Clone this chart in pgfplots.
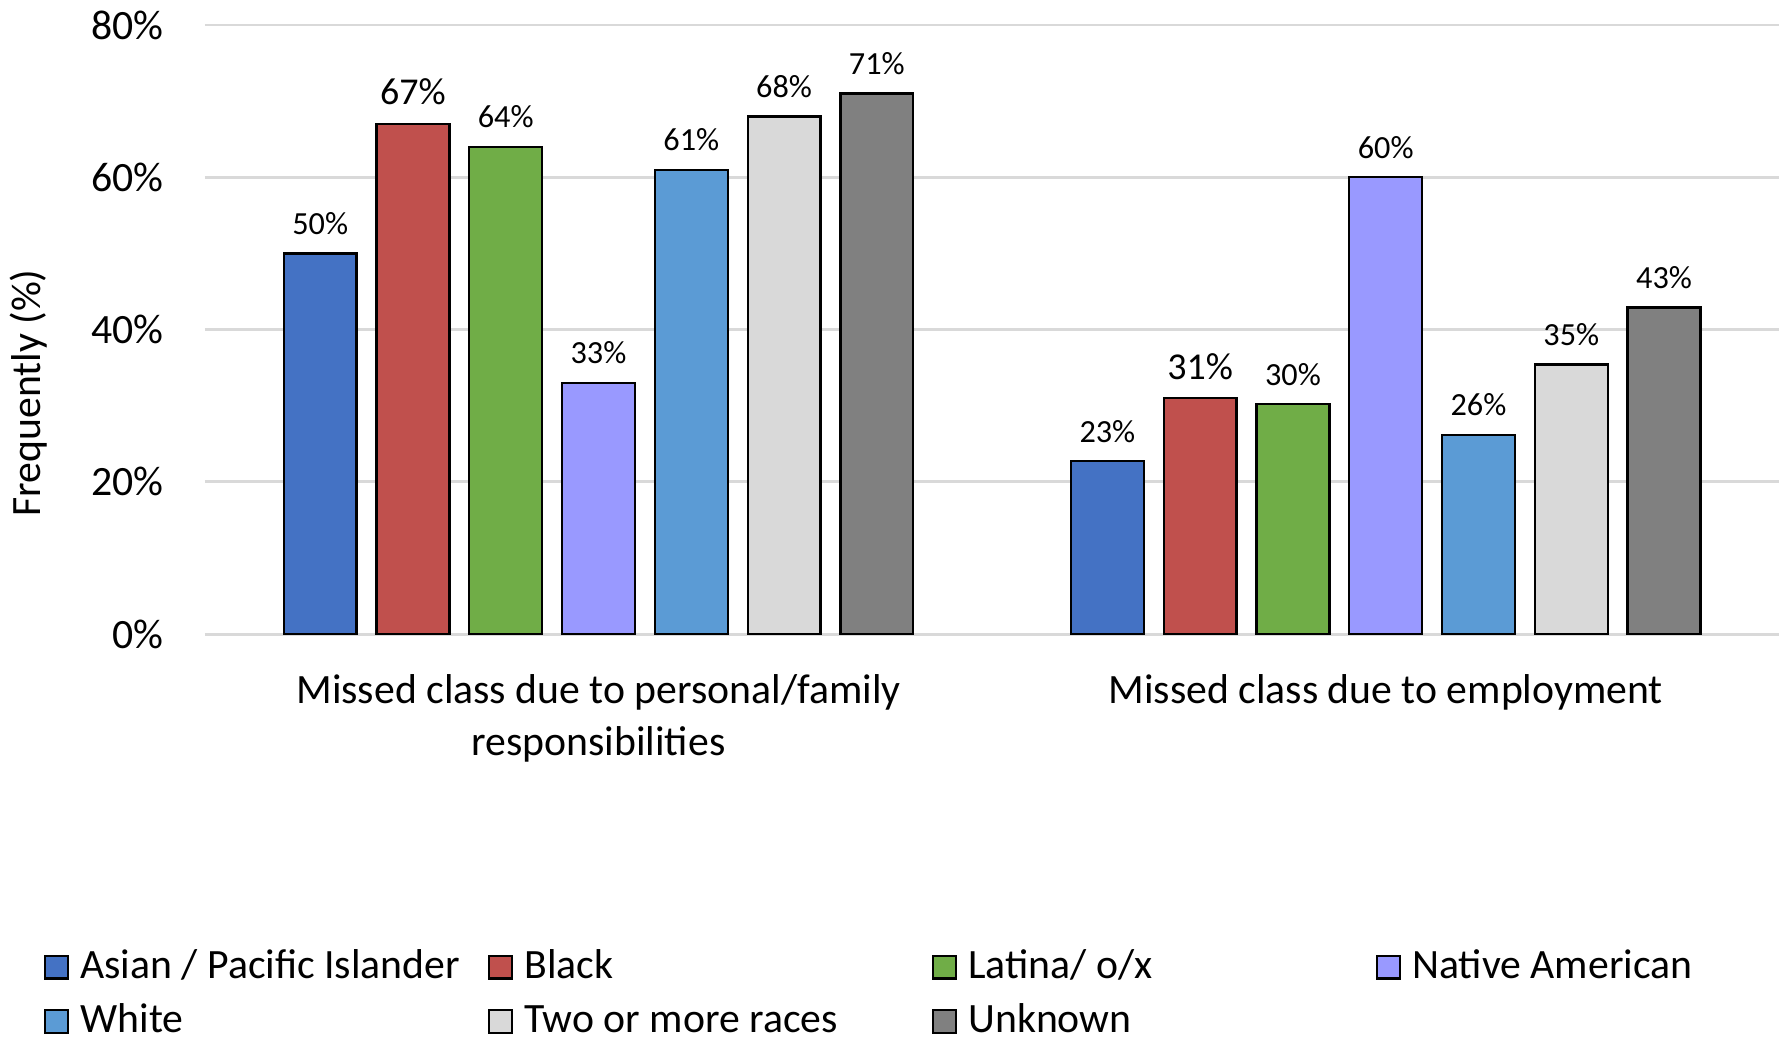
\documentclass[border=0pt]{standalone}
\usepackage{fontspec}
\setmainfont{Carlito}
\usepackage{pgfplots}
\pgfplotsset{compat=1.18}
\definecolor{cA}{HTML}{4472C4}
\definecolor{cB}{HTML}{C0504D}
\definecolor{cC}{HTML}{70AD47}
\definecolor{cD}{HTML}{9999FF}
\definecolor{cE}{HTML}{5B9BD5}
\definecolor{cF}{HTML}{D9D9D9}
\definecolor{cG}{HTML}{808080}
\definecolor{gridc}{HTML}{D9D9D9}
\newcommand\fsz{\fontsize{11}{13.8}\selectfont}
\pgfplotsset{sqlegend/.style={legend image code/.code={\draw[##1,draw=black,line width=0.6pt] (0pt,-3pt) rectangle (6pt,3pt);}}}
\begin{document}
\begin{tikzpicture}
\begin{axis}[
 scale only axis, width=414.9pt, height=160.5pt,
 xmin=-0.5, xmax=1.5, ymin=0, ymax=80,
 ybar=5.25pt, bar width=19.2pt,
 axis line style={draw=none},
 major tick length=0pt,
 ymajorgrids, grid style={color=gridc, line width=0.75pt},
 ytick={0,20,40,60,80}, yticklabels={0\%,20\%,40\%,60\%,80\%},
 yticklabel style={font=\fsz, xshift=-7.4pt},
 xtick={0,1},
 xticklabels={{Missed class due to personal/family\\responsibilities},{Missed class due to employment}},
 xticklabel style={font=\fsz, align=center, yshift=-7.1pt},
 ylabel={Frequently (\%)},
 ylabel style={font=\fsz, at={(axis description cs:-0.112,0.396)}, anchor=center},
 nodes near coords={\pgfmathprintnumber[fixed,precision=0,assume math mode=true]{\pgfplotspointmeta}\%},
 every node near coord/.append style={font=\fontsize{8.5}{10}\selectfont, text=black, yshift=1.3pt},
 legend columns=4,
 legend style={draw=none, fill=none, inner sep=0pt, at={(-0.1027,-0.505)}, anchor=north west, font=\fsz,
   nodes={inner sep=1.5pt, text height=8pt, text depth=2pt},
   /tikz/every odd column/.style={column sep=1.5pt},
   /tikz/every even column/.style={column sep=0.6pt},
   row sep=1.3pt},
]
\addplot[fill=cA, draw=black, line width=0.6pt, sqlegend] coordinates {(0,50) (1,22.7)};
\addlegendentry{\makebox[105.3pt][l]{Asian / Pacific Islander}}
\addplot[fill=cB, draw=black, line width=0.6pt, sqlegend, every node near coord/.append style={font=\fontsize{10}{12}\selectfont}] coordinates {(0,67) (1,31)};
\addlegendentry{\makebox[105.3pt][l]{Black}}
\addplot[fill=cC, draw=black, line width=0.6pt, sqlegend] coordinates {(0,64) (1,30.2)};
\addlegendentry{\makebox[105.3pt][l]{Latina/ o/x}}
\addplot[fill=cD, draw=black, line width=0.6pt, sqlegend] coordinates {(0,33) (1,60)};
\addlegendentry{\makebox[105.3pt][l]{Native American}}
\addplot[fill=cE, draw=black, line width=0.6pt, sqlegend] coordinates {(0,61) (1,26.2)};
\addlegendentry{\makebox[105.3pt][l]{White}}
\addplot[fill=cF, draw=black, line width=0.6pt, sqlegend] coordinates {(0,68) (1,35.4)};
\addlegendentry{\makebox[105.3pt][l]{Two or more races}}
\addplot[fill=cG, draw=black, line width=0.6pt, sqlegend] coordinates {(0,71) (1,42.9)};
\addlegendentry{\makebox[105.3pt][l]{Unknown}}
\end{axis}
\pgfresetboundingbox
\path[use as bounding box] (-54pt,-106.8pt) rectangle (416.4pt,167.1pt);
\end{tikzpicture}
\end{document}
